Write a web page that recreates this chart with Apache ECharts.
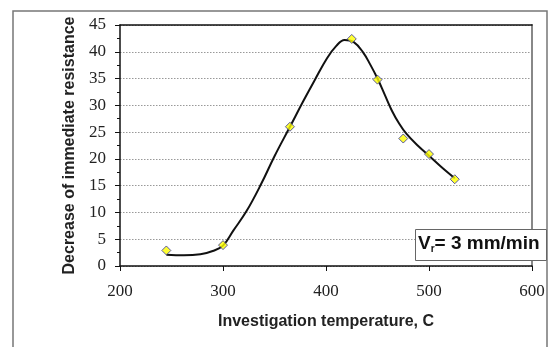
<!DOCTYPE html>
<html><head><meta charset="utf-8">
<script src="https://cdn.jsdelivr.net/npm/echarts@6/dist/echarts.min.js"></script>
<style>html,body{margin:0;padding:0;background:#fff}#c{width:552px;height:347px}</style>
</head><body><div id="c"></div>
<script>
// measured points
const tempPoints = [245, 300, 365, 425, 450, 475, 500, 525];
const decreaseValues = [2.9, 3.9, 26.0, 42.4, 34.8, 23.8, 20.9, 16.2];
// fitted trend curve
const curveTemps = [245, 262, 278, 290, 300, 310, 323, 337, 350, 365, 378, 389, 401, 410, 418, 427, 436, 443, 450, 457, 464, 471, 478, 489, 500, 512, 525];
const curveValues = [2.1, 2.0, 2.2, 2.8, 3.8, 6.6, 10.3, 15.3, 20.5, 26.0, 30.8, 34.7, 38.8, 41.1, 42.2, 41.8, 39.9, 37.6, 35.0, 32.0, 29.0, 26.6, 24.7, 22.5, 20.6, 18.5, 16.4];
const xTicks = [200, 300, 400, 500, 600];
const yTicks = [0, 5, 10, 15, 20, 25, 30, 35, 40, 45];

const chart = echarts.init(document.getElementById('c'), null, {renderer: 'canvas'});
const serif = '"Liberation Serif", "Times New Roman", serif';
const sans = '"Liberation Sans", Arial, sans-serif';
chart.setOption({
  animation: false,
  backgroundColor: '#fff',
  grid: {left: 120, right: 20, top: 25, bottom: 81, containLabel: false},
  xAxis: [{
    type: 'value', min: xTicks[0], max: xTicks[xTicks.length - 1], interval: 100,
    name: 'Investigation temperature, C', nameLocation: 'middle', nameGap: 48,
    nameTextStyle: {fontFamily: sans, fontWeight: 'bold', fontSize: 16, color: '#222'},
    axisLine: {onZero: false, lineStyle: {color: '#111', width: 1.5}},
    axisTick: {show: true, inside: false, length: 5, lineStyle: {color: '#111'}},
    axisLabel: {fontFamily: serif, fontSize: 17, color: '#222', margin: 17},
    splitLine: {show: false}
  }, {
    type: 'value', position: 'top', min: 200, max: 600,
    axisLine: {show: true, onZero: false, lineStyle: {color: '#111', width: 1.5}},
    axisTick: {show: false}, axisLabel: {show: false}, splitLine: {show: false}
  }],
  yAxis: [{
    type: 'value', min: yTicks[0], max: yTicks[yTicks.length - 1], interval: 5,
    name: 'Decrease of immediate resistance', nameLocation: 'middle', nameGap: 42,
    nameTextStyle: {fontFamily: sans, fontWeight: 'bold', fontSize: 16, color: '#222'},
    axisLine: {show: true, onZero: false, lineStyle: {color: '#111', width: 1.5}},
    axisTick: {show: true, inside: false, length: 5, lineStyle: {color: '#111'}},
    minorTick: {show: true, splitNumber: 2, length: 3, lineStyle: {color: '#111'}},
    axisLabel: {fontFamily: serif, fontSize: 17, color: '#222', margin: 14},
    splitLine: {show: true, lineStyle: {color: '#999', type: [1.5, 1.5], width: 1}}
  }, {
    type: 'value', position: 'right', min: 0, max: 45,
    axisLine: {show: true, onZero: false, lineStyle: {color: '#888', width: 2}},
    axisTick: {show: false}, axisLabel: {show: false}, splitLine: {show: false}
  }],
  series: [{
    type: 'line', data: curveTemps.map((t, i) => [t, curveValues[i]]),
    smooth: 0.4, showSymbol: false, lineStyle: {color: '#111', width: 2}, z: 2
  }, {
    type: 'scatter', data: tempPoints.map((t, i) => [t, decreaseValues[i]]),
    symbol: 'diamond', symbolSize: 9,
    itemStyle: {color: '#ffff00', borderColor: '#33339a', borderWidth: 1}, z: 3
  }],
  graphic: [
    {type: 'rect', shape: {x: 13, y: 11, width: 534, height: 345}, style: {fill: 'none', stroke: '#777', lineWidth: 1.5}, silent: true, z: 0},
    {type: 'rect', shape: {x: 415.5, y: 229.5, width: 131, height: 31}, style: {fill: '#fff', stroke: '#666', lineWidth: 1}, z: 10},
    {type: 'text', left: 418, top: 234, z: 11, style: {
      text: 'V{s|r}= 3 mm/min', fill: '#111', font: 'bold 19px ' + sans,
      rich: {s: {font: 'bold 10px ' + sans, fill: '#111', verticalAlign: 'bottom', padding: [11, 0, 0, 0]}}
    }}
  ]
});
</script></body></html>
